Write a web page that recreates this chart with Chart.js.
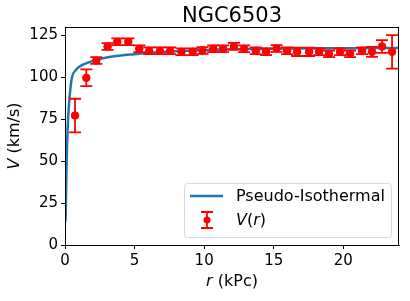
<!DOCTYPE html>
<html>
<head>
<meta charset="utf-8">
<script src="https://cdn.jsdelivr.net/npm/chart.js@4.4.0/dist/chart.umd.min.js"></script>
<style>
  html, body { margin: 0; padding: 0; background: #fff; }
  #wrap { width: 410px; height: 301px; }
</style>
</head>
<body>
<div id="wrap"><canvas id="rcChart" width="410" height="301"></canvas></div>
<script>
const radius = [0.72, 1.53, 2.25, 3.06, 3.76, 4.55, 5.34, 6.05, 6.82, 7.56, 8.37, 9.17, 9.88, 10.65, 11.36, 12.14,
                12.87, 13.71, 14.45, 15.2, 15.96, 16.68, 17.54, 18.26, 18.97, 19.76, 20.48, 21.34, 22.06, 22.78, 23.5];
const velocity = [77.2, 99.7, 110, 118.4, 121.2, 121.2, 117, 115.8, 115.8, 115.8, 115.2, 115.2, 116, 117, 117, 118.5,
                  117, 115.8, 115.2, 117.2, 115.8, 115.2, 115.2, 115.2, 114, 115.2, 114, 115.8, 115.2, 118.4, 115.2];
const velErr = [10, 5, 2, 2, 2, 2, 2, 2, 2, 2, 2, 2, 2, 2, 2, 2,
                2, 2, 2, 2, 2, 2.5, 2.5, 2, 2, 2, 2, 2, 3, 3.8, 10];

// fitted pseudo-isothermal curve
const fitR = [0.03, 0.05, 0.07, 0.12, 0.22, 0.35, 0.5, 0.75, 1.08, 1.5, 2, 3, 4, 5, 6, 8, 10, 12, 15, 18, 21, 24];
const fitV = [14, 18, 27, 50, 75, 90, 100, 104, 106.6, 108.3, 109.8, 111.8, 113, 113.8, 114.6, 115.6, 116.3, 116.8, 117.1, 117.3, 117.4, 117.5];

const xTicks = [0, 5, 10, 15, 20];
const yTicks = [0, 25, 50, 75, 100, 125];

const FONT = "'DejaVu Sans', sans-serif";

const errorBars = {
    id: "errorBars",
    beforeDatasetDraw(chart, args) {
        if (args.index !== 1) return;
        const ctx = chart.ctx;
        const xs = chart.scales.x, ys = chart.scales.y;
        ctx.save();
        ctx.strokeStyle = "red";
        ctx.lineWidth = 1.8;
        for (let i = 0; i < radius.length; i++) {
            const px = xs.getPixelForValue(radius[i]);
            const top = ys.getPixelForValue(velocity[i] + velErr[i]);
            const bot = ys.getPixelForValue(velocity[i] - velErr[i]);
            ctx.beginPath();
            ctx.moveTo(px, top); ctx.lineTo(px, bot);
            ctx.moveTo(px - 6, top); ctx.lineTo(px + 6, top);
            ctx.moveTo(px - 6, bot); ctx.lineTo(px + 6, bot);
            ctx.stroke();
        }
        ctx.restore();
    }
};

const decorations = {
    id: "decorations",
    afterDraw(chart) {
        const ctx = chart.ctx;
        const a = chart.chartArea;
        ctx.save();
        // frame
        ctx.strokeStyle = "#000";
        ctx.lineWidth = 1;
        ctx.strokeRect(a.left + 0.5, a.top + 0.5, a.right - a.left - 1, a.bottom - a.top);

        // title
        ctx.fillStyle = "#000";
        ctx.font = "21px " + FONT;
        ctx.textAlign = "center";
        ctx.textBaseline = "alphabetic";
        ctx.fillText("NGC6503", (a.left + a.right) / 2, 22);

        // x label: r (kPc)
        drawMixed(ctx, [["r", true], [" (kPc)", false]], (a.left + a.right) / 2, 282, 16);

        // y label: V (km/s)
        ctx.save();
        ctx.translate(15, (a.top + a.bottom) / 2);
        ctx.rotate(-Math.PI / 2);
        drawMixed(ctx, [["V", true], [" (km/s)", false]], 0, 0, 16);
        ctx.restore();

        // legend
        const lx = 184, ly = 183, lw = 207, lh = 54;
        ctx.beginPath();
        ctx.roundRect(lx + 0.5, ly + 0.5, lw, lh, 3);
        ctx.fillStyle = "rgba(255,255,255,0.8)";
        ctx.fill();
        ctx.strokeStyle = "#d9d9d9";
        ctx.stroke();

        ctx.strokeStyle = "#1f77b4";
        ctx.lineWidth = 2.5;
        ctx.beginPath();
        ctx.moveTo(190, 196); ctx.lineTo(223, 196);
        ctx.stroke();

        ctx.strokeStyle = "red";
        ctx.lineWidth = 1.8;
        ctx.beginPath();
        ctx.moveTo(207, 212); ctx.lineTo(207, 228);
        ctx.moveTo(201, 212); ctx.lineTo(213, 212);
        ctx.moveTo(201, 228); ctx.lineTo(213, 228);
        ctx.stroke();
        ctx.fillStyle = "red";
        ctx.beginPath();
        ctx.arc(207, 220, 3.5, 0, Math.PI * 2);
        ctx.fill();

        ctx.fillStyle = "#000";
        ctx.font = "16px " + FONT;
        ctx.textAlign = "left";
        ctx.textBaseline = "middle";
        ctx.fillText("Pseudo-Isothermal", 236, 197);
        drawMixedLeft(ctx, [["V", true], ["(", false], ["r", true], [")", false]], 236, 221, 16);
        ctx.restore();
    }
};

function drawMixed(ctx, parts, cx, cy, size) {
    let total = 0;
    for (const p of parts) {
        ctx.font = (p[1] ? "italic " : "") + size + "px " + FONT;
        total += ctx.measureText(p[0]).width;
    }
    drawMixedLeft(ctx, parts, cx - total / 2, cy, size);
}

function drawMixedLeft(ctx, parts, x, cy, size) {
    ctx.fillStyle = "#000";
    ctx.textAlign = "left";
    ctx.textBaseline = "middle";
    for (const p of parts) {
        ctx.font = (p[1] ? "italic " : "") + size + "px " + FONT;
        ctx.fillText(p[0], x, cy);
        x += ctx.measureText(p[0]).width;
    }
}

const ctx = document.getElementById("rcChart").getContext("2d");

new Chart(ctx, {
    type: "scatter",
    data: {
        datasets: [{
            label: "Pseudo-Isothermal",
            type: "line",
            data: fitR.map((r, i) => ({ x: r, y: fitV[i] })),
            borderColor: "#1f77b4",
            borderWidth: 2.5,
            pointRadius: 0,
            fill: false,
            cubicInterpolationMode: "monotone",
            order: 2
        }, {
            label: "V(r)",
            data: radius.map((r, i) => ({ x: r, y: velocity[i] })),
            backgroundColor: "red",
            borderColor: "red",
            pointRadius: 3.8,
            order: 1
        }]
    },
    options: {
        responsive: false,
        animation: false,
        layout: { padding: { top: 27, right: 11, left: 0, bottom: 0 } },
        plugins: {
            legend: { display: false },
            tooltip: { enabled: false }
        },
        scales: {
            x: {
                type: "linear",
                min: 0,
                max: 24,
                afterBuildTicks: (s) => { s.ticks = xTicks.map(v => ({ value: v })); },
                afterFit: (s) => { s.height = 56; },
                grid: { drawOnChartArea: false, drawTicks: true, tickLength: 4, color: "#000" },
                border: { display: true, color: "#000" },
                ticks: { color: "#000", padding: 3, maxRotation: 0, font: { family: FONT, size: 15 } }
            },
            y: {
                type: "linear",
                min: 0,
                max: 130,
                afterBuildTicks: (s) => { s.ticks = yTicks.map(v => ({ value: v })); },
                afterFit: (s) => { s.width = 65; },
                grid: { drawOnChartArea: false, drawTicks: true, tickLength: 4, color: "#000" },
                border: { display: true, color: "#000" },
                ticks: { color: "#000", padding: 3, font: { family: FONT, size: 15 } }
            }
        }
    },
    plugins: [errorBars, decorations]
});
</script>
</body>
</html>
